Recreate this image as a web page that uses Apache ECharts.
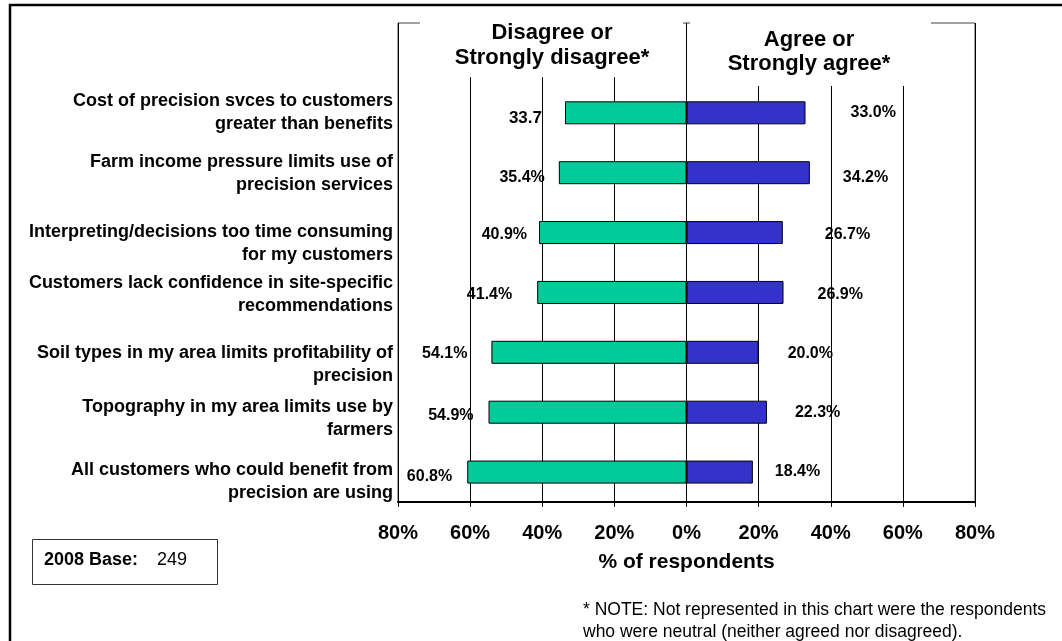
<!DOCTYPE html>
<html><head><meta charset="utf-8">
<script src="https://cdn.jsdelivr.net/npm/echarts@6/dist/echarts.min.js"></script>
<style>html,body{margin:0;padding:0;background:#fff}#c{width:1062px;height:641px}</style>
</head><body><div id="c"></div>
<script>
// ---- data ----
const categories = [
  'Cost of precision svces to customers\ngreater than benefits',
  'Farm income pressure limits use of\nprecision services',
  'Interpreting/decisions too time consuming\nfor my customers',
  'Customers lack confidence in site-specific\nrecommendations',
  'Soil types in my area limits profitability of\nprecision',
  'Topography in my area limits use by\nfarmers',
  'All customers who could benefit from\nprecision are using'
];
const disagree = [33.7, 35.4, 40.9, 41.4, 54.1, 54.9, 60.8];
const agree = [33.0, 34.2, 26.7, 26.9, 20.0, 22.3, 18.4];
const disagreeText = ['33.7', '35.4%', '40.9%', '41.4%', '54.1%', '54.9%', '60.8%'];
const agreeText = ['33.0%', '34.2%', '26.7%', '26.9%', '20.0%', '22.3%', '18.4%'];
const xTickValues = [-80, -60, -40, -20, 0, 20, 40, 60, 80];
// label nudges (style only)
const disagreeGap = [23, 14, 12, 25, 24, 15, 15];
const disagreeDy = [5, 5, 2, 2, 1, 3, 5];
const agreeGap = [45, 33, 42, 34, 29, 28, 22];
const agreeDy = [0, 5, 2, 2, 1, 0, 0];
const categoryDy = [0, 1, 11, 2, 12, 6, 9];

const FONT = '"Liberation Sans", Arial, sans-serif';
const chart = echarts.init(document.getElementById('c'), null, {renderer: 'canvas'});

const yCats = [''].concat(categories);
const disData = [null].concat(disagree.map((v, i) => ({
  value: -v,
  label: {
    formatter: disagreeText[i],
    distance: disagreeGap[i],
    offset: [0, disagreeDy[i]],
    fontSize: i === 0 ? 17 : 16
  }
})));
const agrData = [null].concat(agree.map((v, i) => ({
  value: v,
  label: {
    formatter: agreeText[i],
    distance: agreeGap[i],
    offset: [0, agreeDy[i]]
  }
})));

const rich = {};
categoryDy.forEach((d, i) => { rich['g' + i] = {fontSize: 1, lineHeight: Math.max(1, 2 * d)}; });

chart.setOption({
  animation: false,
  backgroundColor: '#fff',
  textStyle: {fontFamily: FONT},
  grid: {left: 398, top: 23, width: 577, height: 479, show: true, borderColor: '#444', borderWidth: 1, containLabel: false},
  xAxis: {
    type: 'value', min: -80, max: 80, interval: 20,
    axisLine: {show: true, lineStyle: {color: '#000', width: 2}},
    axisTick: {show: true, length: 5, lineStyle: {color: '#000', width: 1}},
    splitLine: {show: true, lineStyle: {color: '#000', width: 1}},
    axisLabel: {
      margin: 21, color: '#000', fontWeight: 'bold', fontSize: 20, fontFamily: FONT,
      formatter: v => xTickValues.indexOf(v) >= 0 ? Math.abs(v) + '%' : ''
    },
    name: '% of respondents', nameLocation: 'middle', nameGap: 50,
    nameTextStyle: {color: '#000', fontWeight: 'bold', fontSize: 21, fontFamily: FONT}
  },
  yAxis: {
    type: 'category', inverse: true, data: yCats,
    axisLine: {show: false}, axisTick: {show: false}, splitLine: {show: false},
    axisLabel: {
      margin: 5, color: '#000', fontWeight: 'bold', fontSize: 18, lineHeight: 23,
      fontFamily: FONT, align: 'right', interval: 0,
      rich: rich,
      formatter: (value, idx) => {
        if (!value) return '';
        const ci = idx - 1;
        return categoryDy[ci] > 0 ? '{g' + ci + '|\u200b}\n' + value : value;
      }
    }
  },
  series: [
    {
      name: 'Disagree or Strongly disagree', type: 'bar', data: disData,
      barWidth: 23, barGap: '-100%',
      itemStyle: {color: '#00CC99', borderColor: '#000', borderWidth: 1},
      label: {show: true, position: 'left', color: '#000', fontWeight: 'bold', fontSize: 16, fontFamily: FONT}
    },
    {
      name: 'Agree or Strongly agree', type: 'bar', data: agrData,
      barWidth: 23, barGap: '-100%',
      itemStyle: {color: '#3333CC', borderColor: '#000', borderWidth: 1},
      label: {show: true, position: 'right', color: '#000', fontWeight: 'bold', fontSize: 16, fontFamily: FONT}
    }
  ],
  graphic: [
    {type: 'rect', z: 100, shape: {x: 10, y: 5, width: 1100, height: 700}, style: {fill: 'none', stroke: '#000', lineWidth: 2.5}},
    {type: 'rect', z: 100, shape: {x: 420, y: 21, width: 263, height: 56}, style: {fill: '#fff'}},
    {type: 'rect', z: 100, shape: {x: 690, y: 21, width: 241, height: 65}, style: {fill: '#fff'}},
    {type: 'text', z: 101, style: {x: 552, y: 33, text: 'Disagree or', textAlign: 'center', textVerticalAlign: 'middle', font: 'bold 22px ' + FONT, fill: '#000'}},
    {type: 'text', z: 101, style: {x: 552, y: 58, text: 'Strongly disagree*', textAlign: 'center', textVerticalAlign: 'middle', font: 'bold 22px ' + FONT, fill: '#000'}},
    {type: 'text', z: 101, style: {x: 809, y: 40, text: 'Agree or', textAlign: 'center', textVerticalAlign: 'middle', font: 'bold 22px ' + FONT, fill: '#000'}},
    {type: 'text', z: 101, style: {x: 809, y: 64, text: 'Strongly agree*', textAlign: 'center', textVerticalAlign: 'middle', font: 'bold 22px ' + FONT, fill: '#000'}},
    {type: 'rect', z: 100, shape: {x: 32.5, y: 539.5, width: 185, height: 45}, style: {fill: '#fff', stroke: '#333', lineWidth: 1}},
    {type: 'text', z: 101, style: {x: 44, y: 560, text: '2008 Base:', textVerticalAlign: 'middle', font: 'bold 18px ' + FONT, fill: '#000'}},
    {type: 'text', z: 101, style: {x: 157, y: 560, text: '249', textVerticalAlign: 'middle', font: '18px ' + FONT, fill: '#000'}},
    {type: 'text', z: 101, style: {x: 583, y: 610, text: '* NOTE: Not represented in this chart were the respondents', textVerticalAlign: 'middle', font: '17.5px ' + FONT, fill: '#000'}},
    {type: 'text', z: 101, style: {x: 583, y: 632, text: 'who were neutral (neither agreed nor disagreed).', textVerticalAlign: 'middle', font: '17.5px ' + FONT, fill: '#000'}}
  ]
});
</script></body></html>
